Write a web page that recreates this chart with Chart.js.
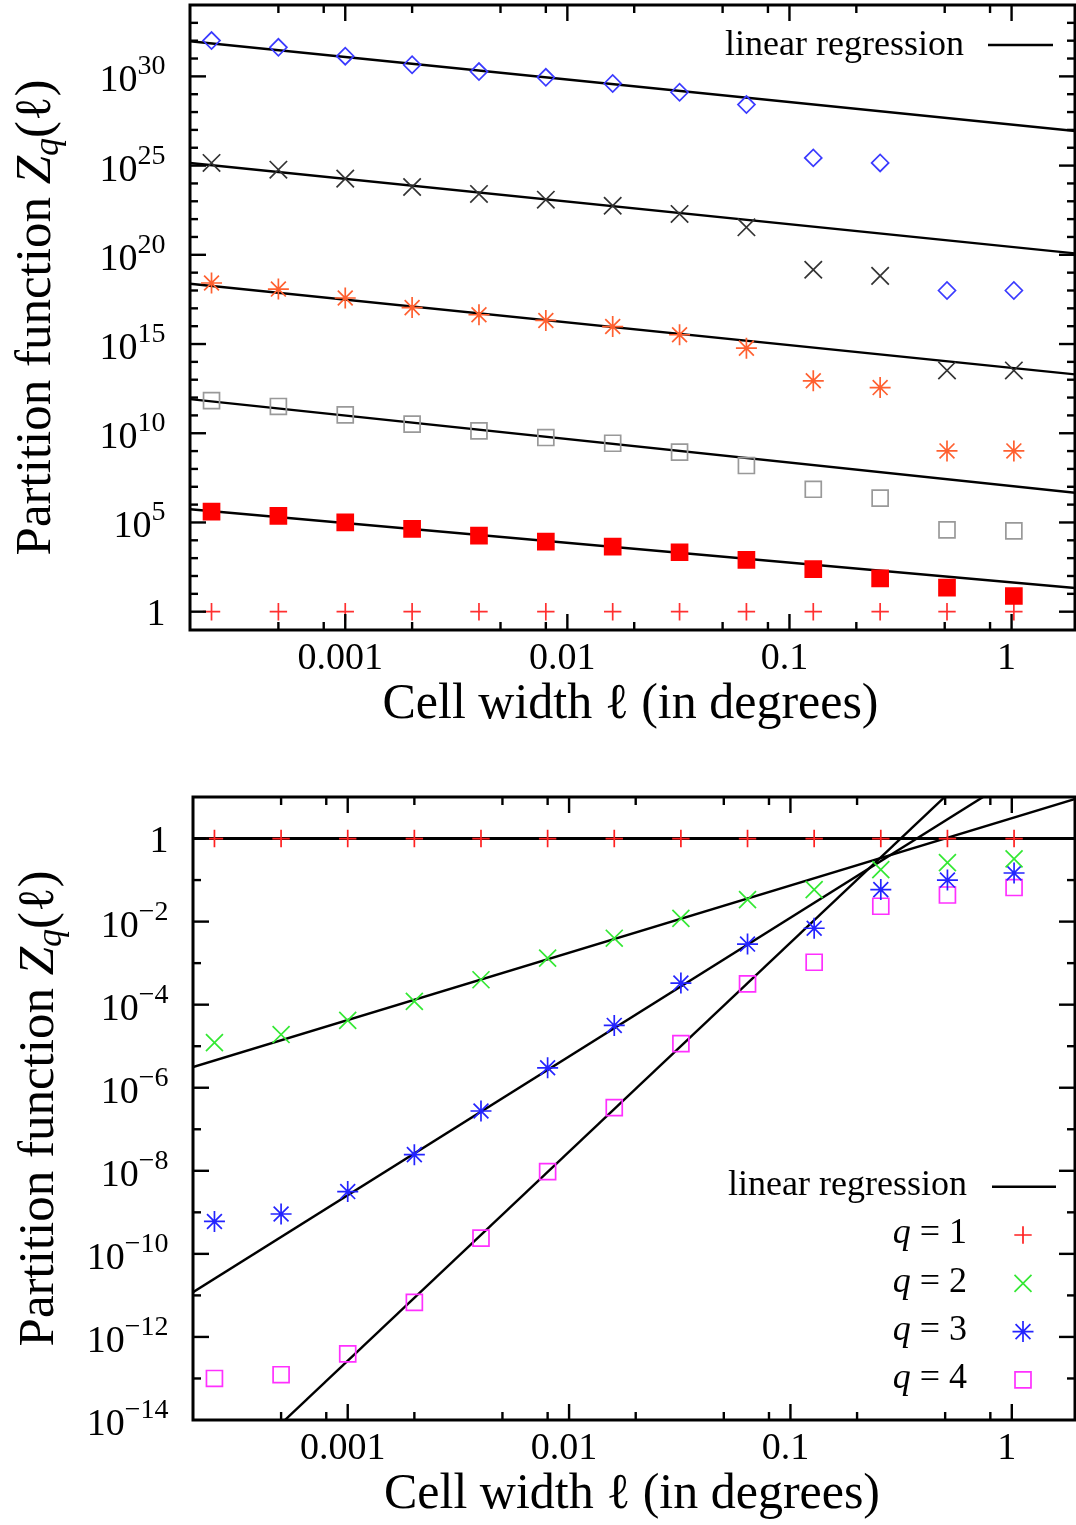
<!DOCTYPE html>
<html>
<head>
<meta charset="utf-8">
<script src="https://cdn.jsdelivr.net/npm/chart.js@4.4.1/dist/chart.umd.min.js"></script>
<style>
  html, body { margin: 0; padding: 0; background: #fff; }
  body { width: 1076px; height: 1525px; position: relative; overflow: hidden; }
  canvas { position: absolute; left: 0; }
  #topChart { top: 0; }
  #bottomChart { top: 760px; }
</style>
</head>
<body>
<canvas id="topChart" width="1076" height="750"></canvas>
<canvas id="bottomChart" width="1076" height="765"></canvas>
<script>
// cell widths in degrees, shared by every series of both panels
const cellWidth = [0.00025, 0.0005, 0.001, 0.002, 0.004, 0.008, 0.016, 0.032, 0.064, 0.128, 0.256, 0.512, 1.024];

// top panel, values
const topDiamond = [1.02e32, 4.27e31, 1.35e31, 4.47e30, 1.86e30, 8.9e29, 3.98e29, 1.29e29, 2.63e28, 2.69e25, 1.41e25, 1.0e18, 1.0e18];
const topCross = [1.41e25, 5.89e24, 1.86e24, 6.31e23, 2.57e23, 1.23e23, 5.62e22, 1.95e22, 3.47e21, 1.45e19, 6.61e18, 3.31e13, 3.31e13];
const topStar = [2.63e18, 1.20e18, 3.80e17, 1.10e17, 4.37e16, 2.09e16, 9.55e15, 3.31e15, 5.89e14, 8.71e12, 3.63e12, 1.02e9, 1.02e9];
const topOpenSquare = [6.76e11, 3.16e11, 1.07e11, 3.24e10, 1.35e10, 5.75e9, 2.75e9, 8.71e8, 1.55e8, 7.24e6, 2.29e6, 3.80e4, 3.39e4];
const topFilledSquare = [4.07e5, 2.34e5, 1.02e5, 4.37e4, 1.82e4, 8.51e3, 4.47e3, 2.14e3, 794, 240, 74.1, 22.4, 7.59];
const topPlus = [1, 1, 1, 1, 1, 1, 1, 1, 1, 1, 1, 1, 1];

// regression lines, value at each end of the x range
const fitEnds = [0.0002, 2];
const topFitDiamond = [9.33e31, 8.32e26];
const topFitCross = [1.41e25, 1.15e20];
const topFitStar = [2.40e18, 1.91e13];
const topFitOpenSquare = [8.13e11, 4.37e6];
const topFitFilledSquare = [5.50e5, 20.4];

// bottom panel
const q1 = [1, 1, 1, 1, 1, 1, 1, 1, 1, 1, 1, 1, 1];
const q2 = [1.22e-5, 1.91e-5, 4.17e-5, 1.20e-4, 3.98e-4, 1.32e-3, 3.98e-3, 1.20e-2, 3.39e-2, 5.89e-2, 0.178, 0.263, 0.324];
const q3 = [6.03e-10, 9.12e-10, 3.16e-9, 2.45e-8, 2.75e-7, 3.02e-6, 3.16e-5, 3.31e-4, 2.88e-3, 6.92e-3, 5.89e-2, 0.100, 0.148];
const q4 = [1.0e-13, 1.23e-13, 3.89e-13, 6.76e-12, 2.40e-10, 9.55e-9, 3.31e-7, 1.15e-5, 3.16e-4, 1.05e-3, 2.34e-2, 4.37e-2, 6.61e-2];
const fitQ1 = [1, 1];
const fitQ2 = [3.16e-6, 9.42];
const fitQ3 = [1.20e-11, 275];
const fitQ4 = [8.1e-17, 1.1e4];

// ticks
const xMajorTicks = [0.001, 0.01, 0.1, 1];
const xTickLabels = ['0.001', '0.01', '0.1', '1'];
const xMinorTicks = [0.0005, 0.0008, 0.002, 0.005, 0.008, 0.02, 0.05, 0.08, 0.2, 0.5, 0.8];
const topYLabelExp = [0, 5, 10, 15, 20, 25, 30];
const bottomYLabelExp = [0, -2, -4, -6, -8, -10, -12, -14];

const SERIF = '"Liberation Serif", "Times New Roman", serif';
const reg = size => size + 'px ' + SERIF;
const ital = size => 'italic ' + size + 'px ' + SERIF;

const pts = ys => cellWidth.map((x, i) => ({ x: x, y: ys[i] }));
const ends = ys => fitEnds.map((x, i) => ({ x: x, y: ys[i] }));

function markers(label, ys, style, color, radius, fill) {
  return {
    label: label,
    data: pts(ys),
    showLine: false,
    pointStyle: style,
    pointRadius: radius,
    pointHoverRadius: radius,
    borderColor: color,
    backgroundColor: fill || 'rgba(0,0,0,0)',
    pointBorderColor: color,
    pointBackgroundColor: fill || 'rgba(0,0,0,0)',
    pointBorderWidth: 1.7,
    order: 0
  };
}

function fitLine(ys, width) {
  return {
    label: 'linear regression',
    data: ends(ys),
    showLine: true,
    pointRadius: 0,
    borderColor: '#000',
    borderWidth: width || 2.4,
    order: 1
  };
}

// text made of pieces with different fonts (italic, sub/superscripts)
function richWidth(ctx, parts) {
  let w = 0;
  parts.forEach(p => { ctx.font = p.font; w += ctx.measureText(p.text).width; });
  return w;
}
function drawRich(ctx, parts, x, y, align) {
  const w = richWidth(ctx, parts);
  let cx = align === 'right' ? x - w : align === 'center' ? x - w / 2 : x;
  ctx.textAlign = 'left';
  ctx.textBaseline = 'alphabetic';
  parts.forEach(p => {
    ctx.font = p.font;
    ctx.fillText(p.text, cx, y + (p.dy || 0));
    cx += ctx.measureText(p.text).width;
  });
}

function expText(e) {
  return e < 0 ? '\u2212' + (-e) : String(e);
}

// gnuplot style frame: inward ticks on all four sides, labels, titles, key
function gnuplotFrame(cfg) {
  return {
    id: 'gnuplotFrame',
    afterDatasetsDraw(chart) {
      const ctx = chart.ctx;
      const a = chart.chartArea;
      const xs = chart.scales.x;
      const ys = chart.scales.y;
      const seg = (x1, y1, x2, y2) => { ctx.beginPath(); ctx.moveTo(x1, y1); ctx.lineTo(x2, y2); ctx.stroke(); };

      ctx.save();
      ctx.strokeStyle = '#000';
      ctx.fillStyle = '#000';
      ctx.lineWidth = 2.4;

      const xTick = (v, len) => {
        const px = xs.getPixelForValue(v);
        if (px < a.left + 2 || px > a.right - 2) return;
        seg(px, a.bottom, px, a.bottom - len);
        seg(px, a.top, px, a.top + len);
      };
      xMinorTicks.forEach(v => xTick(v, 8));
      xMajorTicks.forEach(v => xTick(v, 16));

      for (let e = cfg.yExpMin; e <= cfg.yExpMax; e++) {
        const py = ys.getPixelForValue(Math.pow(10, e));
        if (py < a.top + 2 || py > a.bottom - 2) continue;
        const len = e % cfg.yMajorEvery === 0 ? 16 : 8;
        seg(a.left, py, a.left + len, py);
        seg(a.right, py, a.right - len, py);
      }

      ctx.lineWidth = 3;
      ctx.strokeRect(a.left, a.top, a.right - a.left, a.bottom - a.top);

      // y tick labels with superscript exponents
      cfg.yLabels.forEach(e => {
        const py = ys.getPixelForValue(Math.pow(10, e));
        const rx = a.left - 24.5;
        if (e === 0) {
          drawRich(ctx, [{ text: '1', font: reg(38) }], rx, py + 13, 'right');
        } else {
          drawRich(ctx, [
            { text: '10', font: reg(38) },
            { text: expText(e), font: reg(28), dy: -17 }
          ], rx, py + 15, 'right');
        }
      });

      // x tick labels
      xMajorTicks.forEach((v, i) => {
        const px = xs.getPixelForValue(v);
        drawRich(ctx, [{ text: xTickLabels[i], font: reg(38) }], px - 5, a.bottom + 39, 'center');
      });

      // axis titles
      drawRich(ctx, [{ text: 'Cell width \u2113 (in degrees)', font: reg(50) }],
        (a.left + a.right) / 2 - 2, a.bottom + 88, 'center');

      ctx.save();
      ctx.translate(a.left - 140, (a.top + a.bottom) / 2);
      ctx.rotate(-Math.PI / 2);
      drawRich(ctx, [
        { text: 'Partition function ', font: reg(51) },
        { text: 'Z', font: ital(51) },
        { text: 'q', font: ital(36), dy: 8 },
        { text: '(\u2113)', font: reg(51) }
      ], 0, 0, 'center');
      ctx.restore();

      // key
      const k = cfg.key;
      drawRich(ctx, [{ text: 'linear regression', font: reg(36) }], k.textRight, k.lineBase, 'right');
      ctx.lineWidth = 2.4;
      seg(k.lineFrom, k.lineBase - k.markLift, k.lineTo, k.lineBase - k.markLift);
      (k.rows || []).forEach((row, i) => {
        const base = k.lineBase + k.rowStep * (i + 1);
        drawRich(ctx, [
          { text: 'q', font: ital(36) },
          { text: ' = ' + row.q, font: reg(36) }
        ], k.textRight, base, 'right');
        ctx.save();
        ctx.strokeStyle = row.color;
        ctx.fillStyle = 'rgba(0,0,0,0)';
        ctx.lineWidth = 1.7;
        Chart.helpers.drawPoint(ctx, { pointStyle: row.style, radius: row.radius, borderWidth: 1.7, rotation: 0 },
          k.markX, base - k.markLift);
        ctx.restore();
      });

      ctx.restore();
    }
  };
}

const baseOptions = (padding, yMin, yMax) => ({
  responsive: false,
  animation: false,
  layout: { padding: padding, autoPadding: false },
  scales: {
    x: { type: 'logarithmic', min: 2e-4, max: 1.93, display: false },
    y: { type: 'logarithmic', min: yMin, max: yMax, display: false }
  },
  plugins: { legend: { display: false }, tooltip: { enabled: false } },
  events: []
});

new Chart(document.getElementById('topChart'), {
  type: 'scatter',
  data: {
    datasets: [
      fitLine(topFitDiamond),
      fitLine(topFitCross),
      fitLine(topFitStar),
      fitLine(topFitOpenSquare),
      fitLine(topFitFilledSquare),
      markers('diamond', topDiamond, 'rectRot', '#3a3aff', 8.5),
      markers('cross', topCross, 'crossRot', '#333333', 12.3),
      markers('star', topStar, 'star', '#ff6030', 10.5),
      markers('open square', topOpenSquare, 'rect', '#999999', 11.3),
      markers('filled square', topFilledSquare, 'rect', '#ff0000', 11.3, '#ff0000'),
      markers('plus', topPlus, 'cross', '#ff3030', 8.7)
    ]
  },
  options: baseOptions({ left: 190, top: 5, right: 1, bottom: 120 }, 0.094, 1e34),
  plugins: [gnuplotFrame({
    yExpMin: -1, yExpMax: 34, yMajorEvery: 5, yLabels: topYLabelExp,
    key: { textRight: 964, lineBase: 55, markLift: 10, lineFrom: 988, lineTo: 1053 }
  })]
});

new Chart(document.getElementById('bottomChart'), {
  type: 'scatter',
  data: {
    datasets: [
      fitLine(fitQ1, 3),
      fitLine(fitQ2),
      fitLine(fitQ3),
      fitLine(fitQ4),
      markers('q = 1', q1, 'cross', '#ff2020', 8.7),
      markers('q = 2', q2, 'crossRot', '#33e833', 12),
      markers('q = 3', q3, 'star', '#2424ff', 10.5),
      markers('q = 4', q4, 'rect', '#ff30ff', 11.3)
    ]
  },
  options: baseOptions({ left: 193, top: 37, right: 1, bottom: 105 }, 1e-14, 10),
  plugins: [gnuplotFrame({
    yExpMin: -14, yExpMax: 1, yMajorEvery: 2, yLabels: bottomYLabelExp,
    key: {
      textRight: 967, lineBase: 435, markLift: 8.3, lineFrom: 992, lineTo: 1056,
      rowStep: 48.3, markX: 1023,
      rows: [
        { q: 1, style: 'cross', color: '#ff2020', radius: 8.7 },
        { q: 2, style: 'crossRot', color: '#33e833', radius: 12 },
        { q: 3, style: 'star', color: '#2424ff', radius: 10.5 },
        { q: 4, style: 'rect', color: '#ff30ff', radius: 11.3 }
      ]
    }
  })]
});
</script>
</body>
</html>
